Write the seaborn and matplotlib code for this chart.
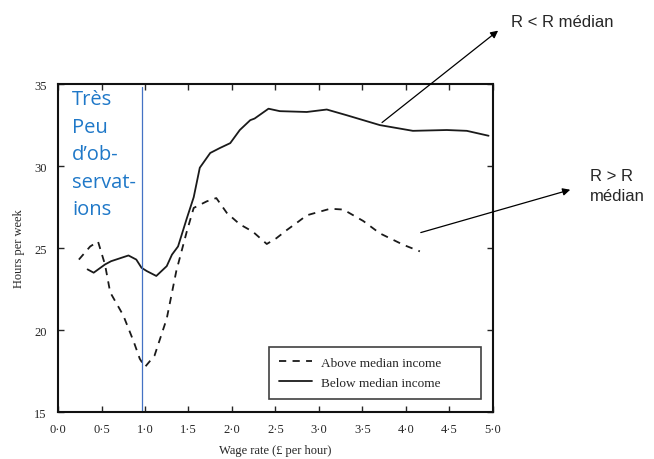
import matplotlib
matplotlib.use("Agg")
import matplotlib.pyplot as plt
import seaborn as sns

# hours per week against wage rate
above_x = [0.24, 0.37, 0.46, 0.54, 0.60, 0.75, 0.87, 0.94, 1.00, 1.11, 1.25, 1.36, 1.48, 1.56, 1.71,
           1.82, 1.94, 2.09, 2.24, 2.40, 2.51, 2.63, 2.76, 2.86, 3.13, 3.28, 3.51, 3.70, 3.97, 4.16]
above_y = [24.3, 25.1, 25.4, 24.0, 22.3, 20.9, 19.3, 18.25, 17.75, 18.45, 20.7, 23.6, 26.0, 27.45, 27.85,
           28.05, 27.15, 26.45, 26.0, 25.25, 25.6, 26.1, 26.6, 27.0, 27.4, 27.35, 26.65, 25.9, 25.2, 24.8]

below_x = [0.34, 0.41, 0.54, 0.61, 0.81, 0.90, 0.96, 1.02, 1.13, 1.21, 1.25, 1.31, 1.38, 1.48, 1.56, 1.63,
           1.75, 1.86, 1.98, 2.09, 2.21, 2.26, 2.42, 2.55, 2.86, 3.09, 3.32, 3.70, 4.08, 4.47, 4.70, 4.95]
below_y = [23.7, 23.5, 24.0, 24.2, 24.55, 24.3, 23.8, 23.6, 23.3, 23.7, 23.9, 24.6, 25.1, 26.8, 28.1, 29.9,
           30.8, 31.1, 31.4, 32.2, 32.8, 32.9, 33.5, 33.35, 33.3, 33.45, 33.1, 32.5, 32.15, 32.2, 32.15, 31.85]

x_ticks = [0.0, 0.5, 1.0, 1.5, 2.0, 2.5, 3.0, 3.5, 4.0, 4.5, 5.0]
x_ticklabels = [f"{t:.1f}".replace(".", "·") for t in x_ticks]
y_ticks = [15, 20, 25, 30, 35]

few_obs_limit = 0.96
few_obs_text = "Très\nPeu\nd’ob-\nservat-\nions"

sns.set_theme(style="ticks")
plt.rcParams["font.family"] = ["Liberation Serif", "DejaVu Serif"]

fig = plt.figure(figsize=(6.54, 4.6), dpi=100)
ax = fig.add_axes([0.0887, 0.102, 0.665, 0.713])

sns.lineplot(x=above_x, y=above_y, ax=ax, color="#1a1a1a", lw=1.3,
             label="Above median income", linestyle=(0, (4, 3.5)))
sns.lineplot(x=below_x, y=below_y, ax=ax, color="#1a1a1a", lw=1.3,
             label="Below median income")

ax.axvline(few_obs_limit, ymax=0.99, color="#4472C4", lw=0.9)
ax.text(0.032, 0.985, few_obs_text, transform=ax.transAxes, ha="left", va="top",
        color="#1F78C8", fontsize=14.5, family=["Open Sans", "DejaVu Sans"], linespacing=1.5)

ax.set_xlim(0, 5.0)
ax.set_ylim(15, 35)
ax.set_xticks(x_ticks)
ax.set_xticklabels(x_ticklabels)
ax.set_yticks(y_ticks)
ax.tick_params(direction="in", top=True, right=True, length=4, width=1, labelsize=9, pad=8)
for s in ax.spines.values():
    s.set_linewidth(1.5)
    s.set_color("#111111")

ax.set_xlabel("Wage rate (£ per hour)", fontsize=9, labelpad=6)
ax.set_ylabel("Hours per week", fontsize=9, labelpad=7)

leg = ax.legend(loc="lower left", bbox_to_anchor=(0.485, 0.04, 0.487, 0.16), mode="expand",
                borderaxespad=0, fontsize=9.5, frameon=True, fancybox=False, edgecolor="#111111",
                handlelength=2.5, handletextpad=0.7, borderpad=0.75, labelspacing=0.6)
leg.get_frame().set_linewidth(1.2)

sans = ["Liberation Sans", "DejaVu Sans"]
ax.annotate("", xy=(0.765, 0.935), xycoords="figure fraction", xytext=(3.70, 32.55), textcoords="data",
            arrowprops=dict(arrowstyle="-|>", color="black", lw=0.9, mutation_scale=11),
            annotation_clip=False)
fig.text(0.782, 0.952, "R < R médian", fontsize=12, family=sans, ha="left", va="center")

ax.annotate("", xy=(0.876, 0.587), xycoords="figure fraction", xytext=(4.14, 25.9), textcoords="data",
            arrowprops=dict(arrowstyle="-|>", color="black", lw=0.9, mutation_scale=11),
            annotation_clip=False)
fig.text(0.902, 0.595, "R > R\nmédian", fontsize=12, family=sans, ha="left", va="center", linespacing=1.4)

fig.savefig("out.png", dpi=100)
